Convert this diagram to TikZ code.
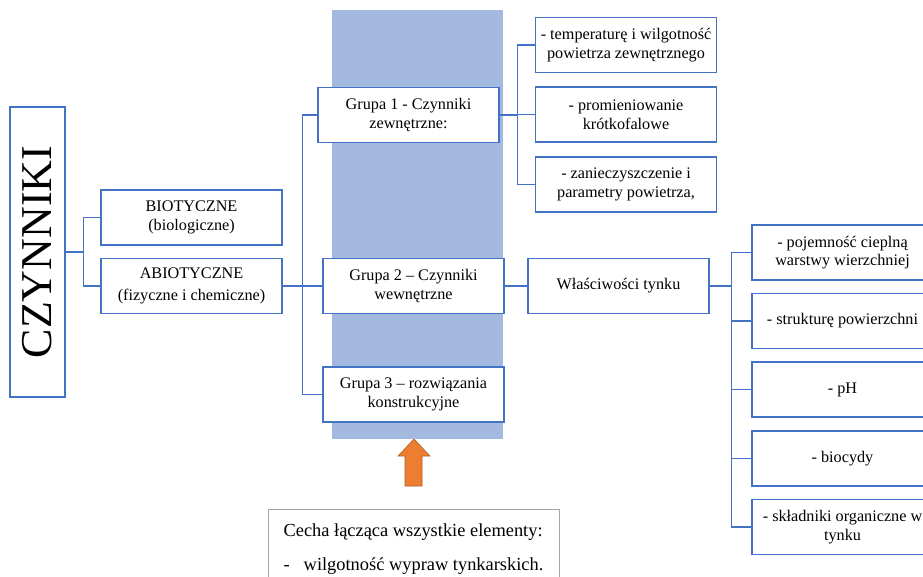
\documentclass[tikz,border=0pt]{standalone}
\usepackage{fontspec}
\setmainfont{Liberation Serif}
\definecolor{boxblue}{HTML}{4472C4}
\definecolor{bandblue}{HTML}{A3B9E0}
\definecolor{arroworange}{HTML}{ED7D31}
\definecolor{arrowedge}{HTML}{B0602A}
\definecolor{notegray}{HTML}{A5A5A5}
\tikzset{
  factor/.style={draw=boxblue, line width=1.3pt, fill=white, align=center,
    minimum width=181pt, minimum height=55pt, inner sep=1pt,
    font=\fontsize{16.2}{18.5}\selectfont},
  link/.style={draw=boxblue, line width=1.3pt},
  note/.style={draw=notegray, line width=1pt, fill=white, align=left,
    minimum width=291pt, minimum height=80pt, inner sep=6pt,
    font=\fontsize{18.4}{22}\selectfont},
}
\begin{document}
\begin{tikzpicture}[x=1pt, y=-1pt]
      \useasboundingbox (0,0) rectangle (923,577);
      % blue band behind the groups
      \fill[bandblue] (332,10) rectangle (503,439);
      % main column
      \node[factor, rotate=90, minimum width=290pt, minimum height=55pt,
        font=\fontsize{44}{44}\selectfont] (czy) at (37.5,252) {CZYNNIKI};
      \node[factor] (bio) at (191.5,217.5) {BIOTYCZNE\\(biologiczne)};
      \node[factor] (abio) at (191.5,286) {ABIOTYCZNE\\[4pt](fizyczne i chemiczne)};
      % groups
      \node[factor] (g1) at (408.5,115) {Grupa 1 - Czynniki\\zewnętrzne:};
      \node[factor] (g2) at (413.5,286) {Grupa 2 -- Czynniki\\wewnętrzne};
      \node[factor] (g3) at (413.5,394.5) {Grupa 3 -- rozwiązania\\konstrukcyjne};
      % external factors
      \node[factor] (e1) at (626,45) {- temperaturę i wilgotność\\powietrza zewnętrznego};
      \node[factor] (e2) at (626,114.5) {- promieniowanie\\krótkofalowe};
      \node[factor] (e3) at (626,184.5) {- zanieczyszczenie i\\parametry powietrza,};
      % plaster
      \node[factor] (tynk) at (618.5,286) {Właściwości tynku};
      \node[factor] (w1) at (842.5,252.5) {- pojemność cieplną\\warstwy wierzchniej};
      \node[factor] (w2) at (842.5,321) {- strukturę powierzchni};
      \node[factor] (w3) at (842.5,389.5) {- pH};
      \node[factor] (w4) at (842.5,458.5) {- biocydy};
      \node[factor] (w5) at (842.5,527) {- składniki organiczne w\\tynku};
      % connectors
      \draw[link] (czy.south) -- ++(18,0) coordinate (t0) |- (bio.west);
      \draw[link] (t0) |- (abio.west);
      \draw[link] (abio.east) -- ++(20,0) coordinate (t1) |- (g1.west);
      \draw[link] (t1) |- (g2.west);
      \draw[link] (t1) |- (g3.west);
      \draw[link] (g1.east) -- ++(18,0) coordinate (t2) |- (e1.west);
      \draw[link] (t2) |- (e2.west);
      \draw[link] (t2) |- (e3.west);
      \draw[link] (g2.east) -- (tynk.west);
      \draw[link] (tynk.east) -- ++(22,0) coordinate (t3) |- (w1.west);
      \foreach \w in {w2,w3,w4,w5}
        \draw[link] (t3) |- (\w.west);
      % common feature
      \draw[fill=arroworange, draw=arrowedge, line width=0.6pt]
        (405,486) -- (405,456) -- (398,456) -- (414,439) -- (430,456)
        -- (422,456) -- (422,486) -- cycle;
      \node[note, anchor=north] (cecha) at (413.5,509)
        {Cecha łącząca wszystkie elementy:\\[12pt]-\hspace{14pt}wilgotność wypraw tynkarskich.};
    \end{tikzpicture}
\end{document}
